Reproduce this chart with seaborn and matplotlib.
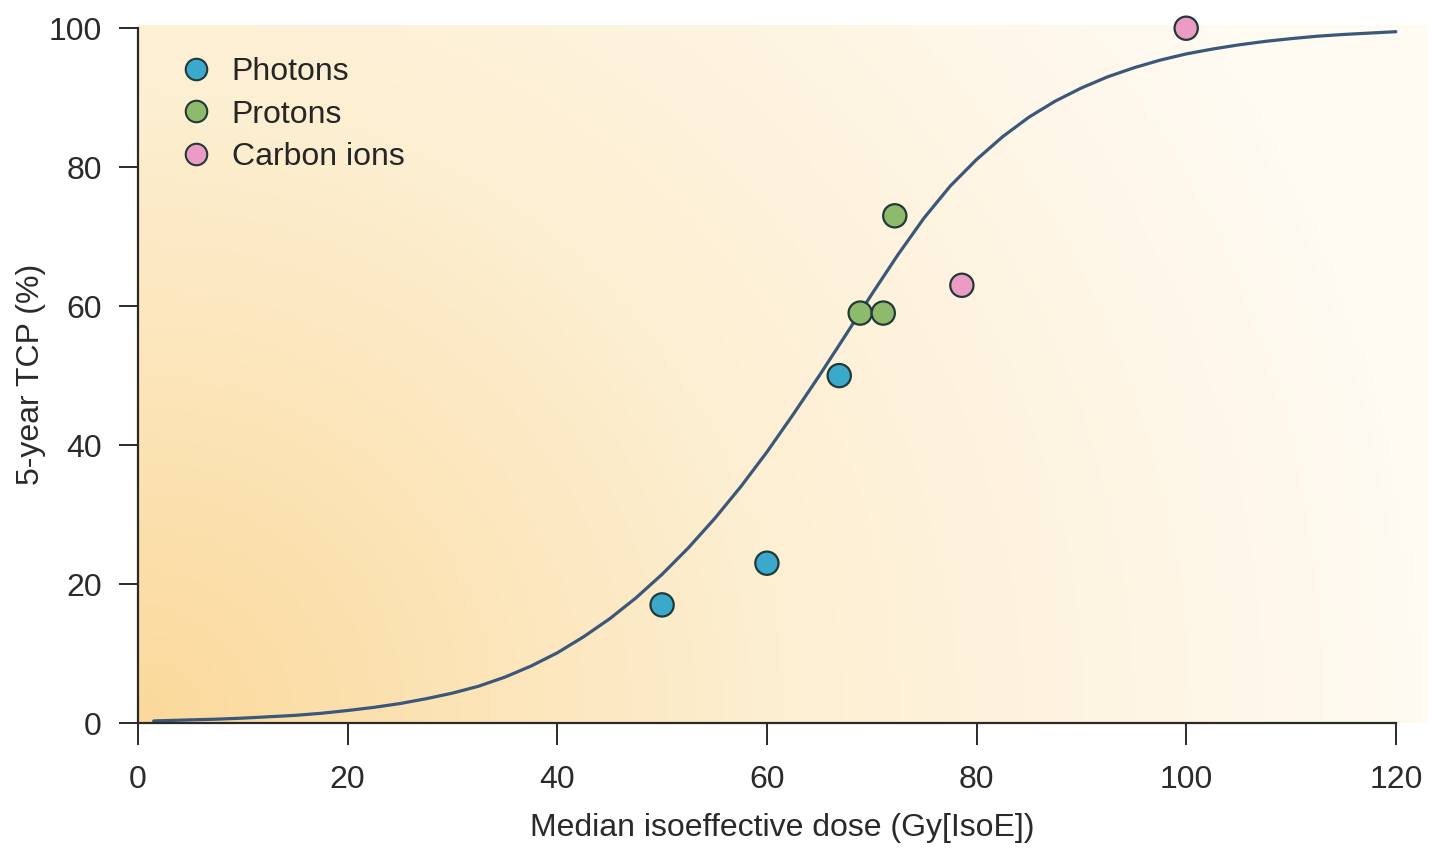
import matplotlib as mpl
import matplotlib.pyplot as plt
from matplotlib.colors import LinearSegmentedColormap
from matplotlib.lines import Line2D
import seaborn as sns
import pandas as pd
import numpy as np

photon_dose = [50.0, 60.0, 66.9]
photon_tcp = [17.0, 23.0, 50.0]
proton_dose = [68.9, 71.1, 72.2]
proton_tcp = [59.0, 59.0, 73.0]
carbon_dose = [78.6, 100.0]
carbon_tcp = [63.0, 100.0]

# fitted dose-response curve
curve_dose = [1.5, 5, 7.5, 10, 12.5, 15, 17.5, 20, 22.5, 25, 27.5, 30, 32.5,
              35, 37.5, 40, 42.5, 45, 47.5, 50, 52.5, 55, 57.5, 60, 62.5, 65,
              67.5, 70, 72.5, 75, 77.5, 80, 82.5, 85, 87.5, 90, 92.5, 95,
              97.5, 100, 102.5, 105, 107.5, 110, 112.5, 115, 117.5, 120]
curve_tcp = [0.3, 0.45, 0.55, 0.7, 0.9, 1.1, 1.4, 1.8, 2.25, 2.8, 3.5, 4.3,
             5.3, 6.6, 8.2, 10.1, 12.4, 15.0, 18.0, 21.4, 25.2, 29.4, 34.0,
             39.0, 44.4, 50.0, 55.8, 61.7, 67.4, 72.7, 77.3, 81.1, 84.4,
             87.2, 89.5, 91.4, 93.0, 94.3, 95.4, 96.3, 97.0, 97.6, 98.1,
             98.5, 98.85, 99.1, 99.3, 99.5]

groups = ['Photons', 'Protons', 'Carbon ions']
colors = {'Photons': '#3aa9cc', 'Protons': '#8dbb6b', 'Carbon ions': '#ec9cc4'}

points = pd.DataFrame({
  'dose': photon_dose + proton_dose + carbon_dose,
  'tcp': photon_tcp + proton_tcp + carbon_tcp,
  'group': ['Photons'] * len(photon_dose) + ['Protons'] * len(proton_dose)
           + ['Carbon ions'] * len(carbon_dose),
})

sns.set_style('ticks')
plt.rcParams['font.family'] = ['Liberation Sans', 'DejaVu Sans']
text_col = '#2a2a2a'

f, ax = plt.subplots(figsize=(14.33, 8.48), dpi=100)
plt.subplots_adjust(left=0.0963, right=0.996, bottom=0.1474, top=0.970)

# warm background gradient, strongest in the lower left corner
gx, gy = np.meshgrid(np.linspace(0, 1, 300), np.linspace(0, 1, 200))
shade = np.clip(1 - np.sqrt((gx / 1.0) ** 2 + (gy / 1.8) ** 2), 0, 1)
bg_cmap = LinearSegmentedColormap.from_list('bg', ['#fffaf2', '#fdefd2', '#fbd99b'])
ax.imshow(shade, cmap=bg_cmap, vmin=0, vmax=1, origin='lower', aspect='auto',
          extent=[0, 1, 0, 1], transform=ax.transAxes, zorder=0)

sns.lineplot(x=curve_dose, y=curve_tcp, color='#3b5779', linewidth=2.3, ax=ax, zorder=2)
sns.scatterplot(data=points, x='dose', y='tcp', hue='group', hue_order=groups,
                palette=colors, s=280, edgecolor='#233838', linewidth=1.6,
                clip_on=False, zorder=3, legend=False, ax=ax)

ax.set_xlim(0, 123)
ax.set_ylim(0, 100.4)
ax.set_xticks(range(0, 121, 20))
ax.set_yticks(range(0, 101, 20))
ax.spines['left'].set_bounds(0, 100)
ax.spines['bottom'].set_bounds(0, 120)
sns.despine(ax=ax)
for sp in ['left', 'bottom']:
  ax.spines[sp].set_linewidth(1.6)
  ax.spines[sp].set_color(text_col)
ax.tick_params(axis='x', length=16, width=1.4, pad=14, labelsize=23, colors=text_col)
ax.tick_params(axis='y', length=14, width=1.4, pad=12, labelsize=23, colors=text_col)

ax.set_xlabel('Median isoeffective dose (Gy[IsoE])', fontsize=23, color=text_col, labelpad=13)
ax.set_ylabel('5-year TCP (%)', fontsize=23, color=text_col, labelpad=2)

handles = [Line2D([], [], marker='o', linestyle='', markersize=15.5,
                  markerfacecolor=colors[g], markeredgecolor='#233838',
                  markeredgewidth=1.5, label=g) for g in groups]
ax.legend(handles=handles, loc='upper left', bbox_to_anchor=(0.0326, 0.955),
          frameon=False, fontsize=23, handlelength=1.0, handletextpad=0.62,
          labelspacing=0.40, borderaxespad=0, borderpad=0)

plt.savefig('out.png', dpi=100)
